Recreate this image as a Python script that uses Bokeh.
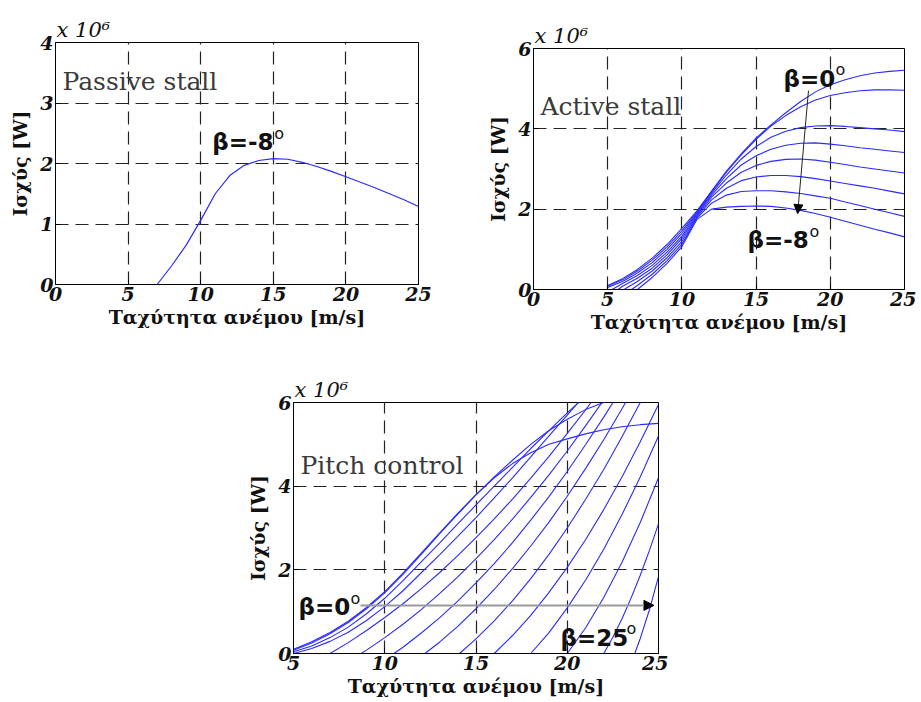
from bokeh.plotting import figure
from bokeh.models import Label, Arrow, NormalHead, FixedTicker, Range1d, Spacer, Title
from bokeh.layouts import column, row
from bokeh.embed import file_html
from bokeh.resources import INLINE

# ---------------- data ----------------
# Passive stall (beta = -8 deg)
passive_speed = [7, 8, 9, 10, 11, 12, 13, 14, 15, 16, 17, 18, 19, 20, 21, 22, 23, 24, 25]
passive_power = [0, 0.31, 0.65, 1.06, 1.5, 1.8, 1.97, 2.05, 2.08, 2.07, 2.02, 1.95, 1.87, 1.78, 1.69, 1.6, 1.5, 1.4, 1.29]

# Active stall, beta = 0 ... -8 deg (top to bottom)
active_b0_x = [5, 6, 7, 8, 9, 10, 11, 12, 13, 14, 15, 16, 17, 18, 19, 20, 21, 22, 23, 24, 25]
active_b0_y = [0.1, 0.27, 0.5, 0.78, 1.12, 1.52, 1.95, 2.45, 2.95, 3.38, 3.77, 4.1, 4.4, 4.68, 4.92, 5.1, 5.22, 5.32, 5.39, 5.43, 5.46]
active_b1_x = [5, 6, 7, 8, 9, 10, 11, 12, 13, 14, 15, 16, 17, 18, 19, 20, 21, 22, 23, 24, 25]
active_b1_y = [0.08, 0.24, 0.46, 0.73, 1.06, 1.46, 1.92, 2.43, 2.92, 3.35, 3.74, 4.07, 4.33, 4.55, 4.72, 4.83, 4.9, 4.95, 4.97, 4.97, 4.96]
active_b2_x = [5, 6, 7, 8, 9, 10, 11, 12, 13, 14, 15, 16, 17, 18, 19, 20, 21, 22, 23, 24, 25]
active_b2_y = [0.05, 0.2, 0.41, 0.67, 1.0, 1.4, 1.89, 2.4, 2.85, 3.25, 3.56, 3.79, 3.94, 4.03, 4.07, 4.08, 4.06, 4.03, 4.0, 3.97, 3.93]
active_b3_x = [5.3, 6, 7, 8, 9, 10, 11, 12, 13, 14, 15, 16, 17, 18, 19, 20, 21, 22, 23, 24, 25]
active_b3_y = [0, 0.15, 0.35, 0.6, 0.93, 1.33, 1.86, 2.35, 2.76, 3.1, 3.33, 3.49, 3.59, 3.64, 3.65, 3.62, 3.58, 3.53, 3.49, 3.45, 3.41]
active_b4_x = [5.7, 6, 7, 8, 9, 10, 11, 12, 13, 14, 15, 16, 17, 18, 19, 20, 21, 22, 23, 24, 25]
active_b4_y = [0, 0.08, 0.28, 0.53, 0.86, 1.27, 1.83, 2.3, 2.65, 2.92, 3.09, 3.19, 3.24, 3.25, 3.22, 3.17, 3.11, 3.05, 3.0, 2.95, 2.9]
active_b5_x = [6.1, 7, 8, 9, 10, 11, 12, 13, 14, 15, 16, 17, 18, 19, 20, 21, 22, 23, 24, 25]
active_b5_y = [0, 0.2, 0.46, 0.79, 1.2, 1.8, 2.23, 2.52, 2.71, 2.8, 2.84, 2.84, 2.81, 2.76, 2.7, 2.64, 2.58, 2.52, 2.45, 2.38]
active_b6_x = [6.6, 7, 8, 9, 10, 11, 12, 13, 14, 15, 16, 17, 18, 19, 20, 21, 22, 23, 24, 25]
active_b6_y = [0, 0.1, 0.38, 0.72, 1.13, 1.77, 2.15, 2.35, 2.44, 2.46, 2.46, 2.43, 2.39, 2.33, 2.27, 2.18, 2.09, 2.0, 1.91, 1.82]
active_b7_x = [7, 8, 9, 10, 11, 12, 13, 14, 15, 16, 17, 18, 19, 20, 21, 22, 23, 24, 25]
active_b7_y = [0, 0.3, 0.65, 1.07, 1.74, 2.0, 2.05, 2.07, 2.08, 2.07, 2.03, 1.97, 1.89, 1.8, 1.7, 1.6, 1.5, 1.41, 1.31]

# Pitch control, beta = 0 ... 25 deg
pitch_c0_x = [5, 6, 7, 8, 9, 10, 11, 12, 13, 14, 15, 16, 17, 18, 19, 20, 21, 22, 23, 24, 25]
pitch_c0_y = [0.1, 0.28, 0.5, 0.77, 1.1, 1.48, 1.92, 2.4, 2.88, 3.35, 3.8, 4.2, 4.54, 4.8, 5.0, 5.13, 5.25, 5.35, 5.42, 5.47, 5.5]
pitch_c1_x = [5, 6, 7, 8, 9, 10, 11, 12, 13, 14, 15, 16, 17, 18, 19, 20, 21, 22, 23, 24, 25]
pitch_c1_y = [0.08, 0.25, 0.47, 0.74, 1.07, 1.45, 1.89, 2.37, 2.86, 3.33, 3.79, 4.22, 4.62, 5.0, 5.33, 5.6, 5.83, 6.0, 6.1, 6.15, 6.18]
pitch_c2_x = [5, 6, 7, 8, 9, 10, 11, 12, 13, 14, 15, 16, 17, 18, 19, 20, 21]
pitch_c2_y = [0.04, 0.18, 0.38, 0.63, 0.95, 1.32, 1.74, 2.19, 2.64, 3.1, 3.55, 4.0, 4.45, 4.9, 5.33, 5.75, 6.15]
pitch_c3_x = [5, 6, 7, 8, 9, 10, 11, 12, 13, 14, 15, 16, 17, 18, 19, 20, 21]
pitch_c3_y = [0.0, 0.12, 0.29, 0.51, 0.79, 1.12, 1.5, 1.93, 2.36, 2.8, 3.25, 3.72, 4.2, 4.7, 5.2, 5.7, 6.2]
pitch_c4_x = [7, 8, 9, 10, 11, 12, 13, 14, 15, 16, 17, 18, 19, 20, 21, 22]
pitch_c4_y = [0, 0.26, 0.55, 0.86, 1.19, 1.55, 1.93, 2.34, 2.77, 3.22, 3.69, 4.19, 4.71, 5.26, 5.82, 6.42]
pitch_c5_x = [8.7, 9, 10, 11, 12, 13, 14, 15, 16, 17, 18, 19, 20, 21, 22]
pitch_c5_y = [0, 0.08, 0.38, 0.7, 1.05, 1.43, 1.83, 2.27, 2.72, 3.21, 3.73, 4.27, 4.84, 5.44, 6.06]
pitch_c6_x = [10.5, 11, 12, 13, 14, 15, 16, 17, 18, 19, 20, 21, 22, 23]
pitch_c6_y = [0, 0.15, 0.49, 0.85, 1.25, 1.69, 2.15, 2.65, 3.19, 3.75, 4.35, 4.99, 5.65, 6.35]
pitch_c7_x = [12.2, 13, 14, 15, 16, 17, 18, 19, 20, 21, 22, 23, 24]
pitch_c7_y = [0, 0.27, 0.65, 1.07, 1.53, 2.03, 2.57, 3.14, 3.76, 4.42, 5.11, 5.85, 6.62]
pitch_c8_x = [14.1, 15, 16, 17, 18, 19, 20, 21, 22, 23, 24, 25]
pitch_c8_y = [0, 0.35, 0.78, 1.26, 1.79, 2.37, 3.0, 3.68, 4.4, 5.18, 6.0, 6.87]
pitch_c9_x = [16.0, 17, 18, 19, 20, 21, 22, 23, 24, 25]
pitch_c9_y = [0, 0.43, 0.91, 1.46, 2.06, 2.72, 3.44, 4.22, 5.06, 5.95]
pitch_c10_x = [18.0, 19, 20, 21, 22, 23, 24, 25]
pitch_c10_y = [0, 0.5, 1.09, 1.75, 2.49, 3.32, 4.22, 5.2]
pitch_c11_x = [20.0, 21, 22, 23, 24, 25]
pitch_c11_y = [0, 0.61, 1.34, 2.18, 3.13, 4.2]
pitch_c12_x = [22.0, 22.5, 23, 23.5, 24, 24.5, 25]
pitch_c12_y = [0, 0.39, 0.83, 1.33, 1.87, 2.46, 3.1]
pitch_c13_x = [23.7, 24, 24.5, 25]
pitch_c13_y = [0, 0.36, 1.04, 1.84]

x_ticks_stall = [0, 5, 10, 15, 20, 25]
x_ticks_pitch = [5, 10, 15, 20, 25]
y_ticks_passive = [0, 1, 2, 3, 4]
y_ticks_big = [0, 2, 4, 6]

x_label = "Ταχύτητα ανέμου [m/s]"
y_label = "Ισχύς [W]"
exponent_text = "x 10⁶"

# ---------------- styling helpers ----------------
SERIF = "DejaVu Serif"
SANS = "DejaVu Sans"
CURVE = "#2a2aff"


def make_fig(xr, yr, xt, yt, fw, fh, bl, br, bt, bb):
    p = figure(frame_width=fw, frame_height=fh,
               x_range=Range1d(*xr), y_range=Range1d(*yr),
               output_backend="svg", toolbar_location=None,
               min_border_left=bl, min_border_right=br,
               min_border_top=bt, min_border_bottom=bb)
    p.background_fill_color = "white"
    p.border_fill_color = "white"
    p.outline_line_color = "black"
    p.outline_line_width = 1
    for ax, ticks in ((p.xaxis, xt), (p.yaxis, yt)):
        ax.ticker = FixedTicker(ticks=ticks)
        ax.minor_tick_line_color = None
        ax.major_tick_in = 5
        ax.major_tick_out = 0
        ax.major_tick_line_color = "black"
        ax.axis_line_color = "black"
        ax.major_label_text_font = SERIF
        ax.major_label_text_font_style = "bold italic"
        ax.major_label_text_font_size = "19px"
        ax.major_label_text_color = "#111111"
        ax.axis_label_text_font = SERIF
        ax.axis_label_text_font_style = "bold"
        ax.axis_label_text_font_size = "19px"
        ax.axis_label_text_color = "#111111"
    p.xaxis.major_label_standoff = 2
    p.yaxis.major_label_standoff = 2
    p.xaxis.axis_label_standoff = 2
    p.yaxis.axis_label_standoff = 6
    p.xaxis.axis_label = x_label
    p.yaxis.axis_label = y_label
    for g in (p.xgrid, p.ygrid):
        g.grid_line_color = "#222222"
        g.grid_line_dash = "13 7"
        g.grid_line_width = 1.2
    p.xgrid.ticker = FixedTicker(ticks=xt)
    p.ygrid.ticker = FixedTicker(ticks=yt)
    # exponent label "x 10^6" above the frame
    p.add_layout(Title(text=exponent_text, align="left", offset=1, standoff=2,
                       text_font=SERIF, text_font_style="italic", text_font_size="21px",
                       text_color="#111111"), "above")
    return p


def title(p, x, y, txt):
    p.add_layout(Label(x=x, y=y, text=txt, text_font=SERIF, text_font_size="25px",
                       text_color="#3a3a3a", text_baseline="middle"))


def beta(p, x, y, txt, sup_dx):
    p.add_layout(Label(x=x, y=y, text=txt, text_font=SANS, text_font_style="bold",
                       text_font_size="23px", text_color="#111111", text_baseline="middle"))
    p.add_layout(Label(x=x, y=y, x_offset=sup_dx, y_offset=9, text="o", text_font=SANS,
                       text_font_size="16px", text_color="#111111", text_baseline="middle"))


# ---------------- passive stall ----------------
p1 = make_fig((0, 25), (0, 4), x_ticks_stall, y_ticks_passive, 363, 242, 55, 15, 42, 52)
p1.line(passive_speed, passive_power, line_color=CURVE, line_width=1.2)
title(p1, 0.48, 3.36, "Passive stall")
beta(p1, 10.8, 2.35, "β=-8", 62)

# ---------------- active stall ----------------
p2 = make_fig((0, 25), (0, 6), x_ticks_stall, y_ticks_big, 371, 241, 100, 12, 42, 47)
for xs, ys in ((active_b0_x, active_b0_y), (active_b1_x, active_b1_y), (active_b2_x, active_b2_y),
               (active_b3_x, active_b3_y), (active_b4_x, active_b4_y), (active_b5_x, active_b5_y),
               (active_b6_x, active_b6_y), (active_b7_x, active_b7_y)):
    p2.line(xs, ys, line_color=CURVE, line_width=1.1)
title(p2, 0.47, 4.56, "Active stall")
beta(p2, 16.85, 5.25, "β=0", 52)
beta(p2, 14.42, 1.22, "β=-8", 62)
p2.add_layout(Arrow(end=NormalHead(size=9, fill_color="black", line_color="black"),
                    x_start=18.53, y_start=4.95, x_end=17.8, y_end=1.89,
                    line_color="#222222", line_width=1))

# ---------------- pitch control ----------------
p3 = make_fig((5, 25), (0, 6), x_ticks_pitch, y_ticks_big, 365, 251, 85, 10, 66, 45)
for xs, ys in ((pitch_c0_x, pitch_c0_y), (pitch_c1_x, pitch_c1_y), (pitch_c2_x, pitch_c2_y),
               (pitch_c3_x, pitch_c3_y), (pitch_c4_x, pitch_c4_y), (pitch_c5_x, pitch_c5_y),
               (pitch_c6_x, pitch_c6_y), (pitch_c7_x, pitch_c7_y), (pitch_c8_x, pitch_c8_y),
               (pitch_c9_x, pitch_c9_y), (pitch_c10_x, pitch_c10_y), (pitch_c11_x, pitch_c11_y),
               (pitch_c12_x, pitch_c12_y), (pitch_c13_x, pitch_c13_y)):
    p3.line(xs, ys, line_color=CURVE, line_width=1.1)
title(p3, 5.38, 4.49, "Pitch control")
p3.add_layout(Arrow(end=NormalHead(size=10, fill_color="black", line_color="black"),
                    x_start=8.67, y_start=1.15, x_end=24.75, y_end=1.15,
                    line_color="#9a9a9a", line_width=2))
beta(p3, 5.27, 1.1, "β=0", 52)
beta(p3, 19.63, 0.38, "β=25", 66)

top_row = row(column(p1), column(Spacer(width=10, height=6), p2))
layout = column(top_row, row(Spacer(width=208, height=10), p3))

open("out.html", "w").write(file_html(layout, INLINE))
